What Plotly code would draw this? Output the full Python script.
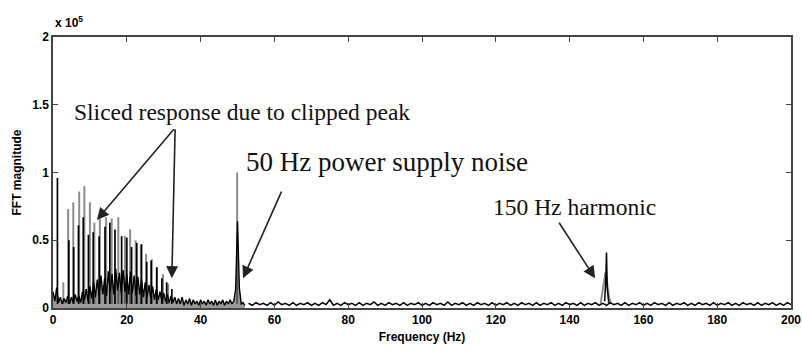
import numpy as np
import plotly.graph_objects as go

# ---- data ----
# noise floor 0-52 Hz, 0.5 Hz steps
floor_lo_freq = np.arange(0, 52.5, 0.5)
floor_lo_val = [0.12, 0.05, 0.15, 0.04, 0.08, 0.03, 0.07, 0.04, 0.09, 0.03,
                0.08, 0.04, 0.10, 0.05, 0.09, 0.04, 0.12, 0.06, 0.14, 0.05,
                0.16, 0.07, 0.19, 0.08, 0.21, 0.09, 0.24, 0.10, 0.22, 0.09,
                0.27, 0.12, 0.25, 0.10, 0.29, 0.13, 0.26, 0.11, 0.28, 0.12,
                0.25, 0.10, 0.27, 0.11, 0.24, 0.09, 0.23, 0.10, 0.21, 0.08,
                0.19, 0.08, 0.17, 0.07, 0.16, 0.06, 0.14, 0.06, 0.12, 0.05,
                0.11, 0.05, 0.10, 0.04, 0.09, 0.04, 0.08, 0.03, 0.07, 0.03,
                0.08, 0.02, 0.06, 0.03, 0.07, 0.02, 0.06, 0.03, 0.05, 0.02,
                0.06, 0.03, 0.05, 0.02, 0.06, 0.03, 0.05, 0.02, 0.06, 0.02,
                0.05, 0.03, 0.06, 0.02, 0.05, 0.03, 0.06, 0.03, 0.05, 0.14,
                0.64, 0.15, 0.03, 0.04, 0.02]
# noise floor 53-200 Hz, 1 Hz steps
floor_hi_freq = np.arange(53, 201, 1)
floor_hi_val = [0.035, 0.02, 0.04, 0.025, 0.035, 0.02, 0.04, 0.02, 0.045, 0.025,
                0.035, 0.02, 0.04, 0.02, 0.035, 0.025, 0.04, 0.02, 0.035, 0.02,
                0.04, 0.025, 0.06, 0.02, 0.035, 0.02, 0.04, 0.025, 0.035, 0.02,
                0.04, 0.02, 0.035, 0.025, 0.045, 0.02, 0.035, 0.02, 0.04, 0.025,
                0.035, 0.02, 0.04, 0.02, 0.035, 0.025, 0.04, 0.02, 0.035, 0.02,
                0.04, 0.025, 0.035, 0.02, 0.045, 0.02, 0.035, 0.025, 0.04, 0.02,
                0.035, 0.02, 0.04, 0.025, 0.035, 0.02, 0.04, 0.02, 0.035, 0.025,
                0.04, 0.02, 0.035, 0.02, 0.04, 0.025, 0.035, 0.02, 0.04, 0.02,
                0.035, 0.025, 0.04, 0.02, 0.035, 0.02, 0.04, 0.025, 0.035, 0.02,
                0.04, 0.02, 0.035, 0.025, 0.04, 0.02, 0.035, 0.02, 0.04, 0.025,
                0.035, 0.02, 0.04, 0.02, 0.035, 0.025, 0.04, 0.02, 0.035, 0.02,
                0.04, 0.025, 0.035, 0.02, 0.04, 0.02, 0.035, 0.025, 0.04, 0.02,
                0.035, 0.02, 0.04, 0.025, 0.035, 0.02, 0.04, 0.02, 0.035, 0.025,
                0.04, 0.02, 0.035, 0.02, 0.04, 0.025, 0.035, 0.02, 0.04, 0.02,
                0.035, 0.025, 0.04, 0.02, 0.035, 0.02, 0.04, 0.025]
# black comb spikes (low-frequency sliced response)
black_freq = [1.2, 4.3, 5.6, 6.9, 8.2, 9.6, 10.9, 12.5, 14.1, 15.4, 16.8,
              18.6, 20.0, 21.3, 22.7, 24.0, 25.4, 26.6, 28.1, 29.5, 30.8, 32.2]
black_height = [0.96, 0.50, 0.45, 0.61, 0.67, 0.54, 0.56, 0.53, 0.60, 0.63,
                0.58, 0.53, 0.52, 0.45, 0.48, 0.47, 0.34, 0.35, 0.30, 0.22,
                0.19, 0.14]
# gray comb spikes
gray_freq = [2.8, 4.1, 5.5, 7.1, 8.5, 10.0, 11.2, 12.7, 14.4, 15.9, 17.7,
             19.5, 20.9, 22.4, 23.8, 25.2, 26.8, 28.2, 29.8, 31.2, 49.9]
gray_height = [0.19, 0.73, 0.78, 0.86, 0.90, 0.78, 0.63, 0.66, 0.67, 0.66,
               0.67, 0.53, 0.58, 0.50, 0.47, 0.40, 0.36, 0.30, 0.25, 0.18, 1.00]
# 150 Hz harmonic
harm_gray_freq = [148.4, 148.9, 149.3, 149.7, 150.2, 150.7, 151.2]
harm_gray_val = [0.03, 0.12, 0.22, 0.26, 0.18, 0.08, 0.03]
harm_black_freq = [149.5, 149.8, 150.0, 150.2, 150.6]
harm_black_val = [0.05, 0.20, 0.41, 0.15, 0.04]

x_ticks = [0, 20, 40, 60, 80, 100, 120, 140, 160, 180, 200]
y_ticks = [0, 0.5, 1, 1.5, 2]
y_tick_text = ["0", "0.5", "1", "1.5", "2"]


def spikes(freqs, heights, base=0.03):
    xs, ys = [], []
    for f, h in zip(freqs, heights):
        xs += [f, f, None]
        ys += [base, h, None]
    return xs, ys


fig = go.Figure()
gx, gy = spikes(gray_freq, gray_height)
fig.add_trace(go.Scatter(x=gx, y=gy, mode="lines",
                         line=dict(color="#8c8c8c", width=2), hoverinfo="skip"))
fig.add_trace(go.Scatter(x=harm_gray_freq, y=harm_gray_val, mode="lines",
                         line=dict(color="#8c8c8c", width=2), hoverinfo="skip"))
fig.add_trace(go.Scatter(x=floor_lo_freq, y=floor_lo_val, mode="lines",
                         fill="tozeroy", fillcolor="rgba(30,30,30,0.45)",
                         line=dict(color="#000000", width=1.4), hoverinfo="skip"))
fig.add_trace(go.Scatter(x=floor_hi_freq, y=floor_hi_val, mode="lines",
                         line=dict(color="#000000", width=1.5), hoverinfo="skip"))
bx, by = spikes(black_freq, black_height)
fig.add_trace(go.Scatter(x=bx, y=by, mode="lines",
                         line=dict(color="#000000", width=1.7), hoverinfo="skip"))
fig.add_trace(go.Scatter(x=harm_black_freq, y=harm_black_val, mode="lines",
                         line=dict(color="#000000", width=1.5), hoverinfo="skip"))

tick_font = dict(family="Liberation Sans Narrow, Arial Narrow, Liberation Sans",
                 size=12, color="#000")
fig.update_xaxes(range=[0, 200], tickvals=x_ticks,
                 ticktext=["<b>%d</b>" % v for v in x_ticks],
                 ticks="inside", ticklen=5, automargin=False,
                 tickcolor="#444", showline=True, linecolor="#444", linewidth=1.5,
                 mirror="ticks", showgrid=False, zeroline=False,
                 tickfont=tick_font,
                 title=dict(text="<b>Frequency (Hz)</b>", font=tick_font, standoff=6))
fig.update_yaxes(range=[0, 2], tickvals=y_ticks,
                 ticktext=["<b>%s</b>" % t for t in y_tick_text],
                 ticks="inside", ticklen=5, tickcolor="#444", showline=True,
                 automargin=False,
                 linecolor="#444", linewidth=1.5, mirror="ticks", showgrid=False,
                 zeroline=False, tickfont=tick_font,
                 title=dict(text="<b>FFT magnitude</b>", font=tick_font, standoff=8))

serif_family = "Liberation Serif, Times New Roman"
arrow_common = dict(showarrow=True, arrowhead=2, arrowsize=1.5, arrowwidth=1.6,
                    arrowcolor="#222", axref="x", ayref="y", text="")
fig.add_annotation(x=11.9, y=0.65, ax=33.1, ay=1.33, **arrow_common)
fig.add_annotation(x=32.2, y=0.22, ax=33.1, ay=1.33, **arrow_common)
fig.add_annotation(x=51.5, y=0.22, ax=62.1, ay=0.87, **arrow_common)
fig.add_annotation(x=146.9, y=0.22, ax=136.9, ay=0.64, **arrow_common)

fig.add_annotation(x=51.1, y=1.444, text="Sliced response due to clipped peak",
                   showarrow=False,
                   font=dict(family=serif_family, size=23.5, color="#111"))
fig.add_annotation(x=90.5, y=1.08, text="50 Hz power supply noise",
                   showarrow=False,
                   font=dict(family=serif_family, size=27, color="#111"))
fig.add_annotation(x=141.2, y=0.748, text="150 Hz harmonic",
                   showarrow=False,
                   font=dict(family=serif_family, size=23.5, color="#111"))
fig.add_annotation(xref="paper", yref="paper", x=0.0, y=1.0, xanchor="left",
                   yanchor="bottom", text="<b>x 10<sup>5</sup></b>", showarrow=False,
                   font=dict(family="Liberation Sans Narrow, Arial Narrow, Liberation Sans",
                             size=12, color="#000"), yshift=5)

fig.update_layout(width=802, height=353, margin=dict(l=53, r=11, t=37, b=45),
                  plot_bgcolor="white", paper_bgcolor="white", showlegend=False)
fig.write_html("out.html")
